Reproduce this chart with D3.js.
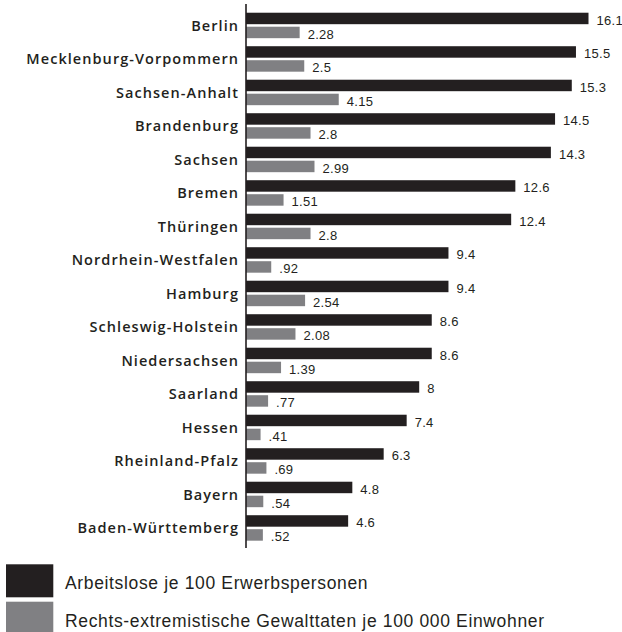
<!DOCTYPE html>
<html>
<head>
<meta charset="utf-8">
<script src="https://cdn.jsdelivr.net/npm/d3@7"></script>
<style>
  html, body { margin: 0; padding: 0; background: #fff; }
  svg { display: block; }
</style>
</head>
<body>
<svg id="chart" width="622" height="632"></svg>
<script>
const states = ["Berlin", "Mecklenburg-Vorpommern", "Sachsen-Anhalt", "Brandenburg", "Sachsen", "Bremen", "Thüringen", "Nordrhein-Westfalen", "Hamburg", "Schleswig-Holstein", "Niedersachsen", "Saarland", "Hessen", "Rheinland-Pfalz", "Bayern", "Baden-Württemberg"];
const arbeitslose = [16.1, 15.5, 15.3, 14.5, 14.3, 12.6, 12.4, 9.4, 9.4, 8.6, 8.6, 8, 7.4, 6.3, 4.8, 4.6];
const gewalttaten = [2.28, 2.5, 4.15, 2.8, 2.99, 1.51, 2.8, 0.92, 2.54, 2.08, 1.39, 0.77, 0.41, 0.69, 0.54, 0.52];
const arbeitsloseLabels = ["16.1", "15.5", "15.3", "14.5", "14.3", "12.6", "12.4", "9.4", "9.4", "8.6", "8.6", "8", "7.4", "6.3", "4.8", "4.6"];
const gewalttatenLabels = ["2.28", "2.5", "4.15", "2.8", "2.99", "1.51", "2.8", ".92", "2.54", "2.08", "1.39", ".77", ".41", ".69", ".54", ".52"];
const seriesNames = ["Arbeitslose je 100 Erwerbspersonen", "Rechts-extremistische Gewalttaten je 100 000 Einwohner"];
const seriesColors = ["#231f20", "#808083"];

const svg = d3.select("#chart");
const axisX = 246;

const y = d3.scaleBand().domain(states).range([8.7, 544.7]).paddingInner(0.24).paddingOuter(0.12);
const ySub = d3.scaleBand().domain([0, 1]).range([0, y.bandwidth()]).paddingInner(0.18);
const x = d3.scaleLinear().domain([0, 16.1]).range([252, 588.5]);

const rows = states.map((s, i) => ({
  state: s,
  vals: [
    { k: 0, v: arbeitslose[i], label: arbeitsloseLabels[i] },
    { k: 1, v: gewalttaten[i], label: gewalttatenLabels[i] }
  ]
}));

const g = svg.selectAll("g.row").data(rows).join("g")
  .attr("class", "row")
  .attr("transform", d => `translate(0,${y(d.state)})`);

g.selectAll("rect").data(d => d.vals).join("rect")
  .attr("x", axisX)
  .attr("y", d => ySub(d.k))
  .attr("width", d => x(d.v) - axisX)
  .attr("height", ySub.bandwidth())
  .attr("fill", d => seriesColors[d.k]);

g.selectAll("text.val").data(d => d.vals).join("text")
  .attr("class", "val")
  .attr("x", d => x(d.v) + 8)
  .attr("y", d => ySub(d.k) + ySub.bandwidth() + 0.5)
  .attr("font-family", "'Liberation Sans', Arial, sans-serif")
  .attr("font-size", 13)
  .attr("letter-spacing", 0.3)
  .attr("fill", "#231f20")
  .text(d => d.label);

g.append("text")
  .attr("class", "state")
  .attr("x", 239)
  .attr("y", y.bandwidth() / 2 + 5.2)
  .attr("text-anchor", "end")
  .attr("font-family", "'Open Sans', sans-serif")
  .attr("font-weight", 600)
  .attr("font-size", 14.5)
  .attr("letter-spacing", 1.05)
  .attr("fill", "#231f20")
  .text(d => d.state);

svg.append("line")
  .attr("x1", axisX).attr("x2", axisX)
  .attr("y1", 4).attr("y2", 548)
  .attr("stroke", "#231f20")
  .attr("stroke-width", 1.6);

// Legend
const legend = svg.selectAll("g.legend").data(seriesNames).join("g")
  .attr("class", "legend")
  .attr("transform", (d, i) => `translate(6,${564.3 + i * 37.4})`);
legend.append("rect")
  .attr("width", 47.3).attr("height", 33)
  .attr("fill", (d, i) => seriesColors[i]);
legend.append("text")
  .attr("x", 59)
  .attr("y", 25)
  .attr("font-family", "'Liberation Sans', Arial, sans-serif")
  .attr("font-size", 17.5)
  .attr("letter-spacing", 0.65)
  .attr("fill", "#231f20")
  .text(d => d);
</script>
</body>
</html>
